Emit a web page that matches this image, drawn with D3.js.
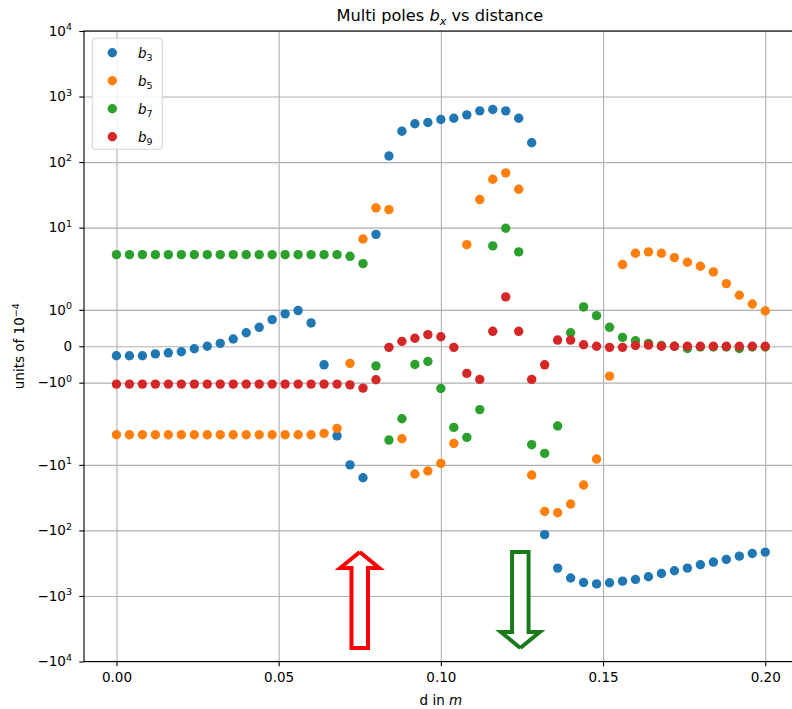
<!DOCTYPE html>
<html>
<head>
<meta charset="utf-8">
<script src="https://cdn.jsdelivr.net/npm/d3@7"></script>
<style>
  body { margin: 0; background: #fff; }
  text { font-family: "DejaVu Sans", sans-serif; fill: #000; }
</style>
</head>
<body>
<svg></svg>
<script>
const WIDTH = 792;
const HEIGHT = 709;

// plot box (right edge sits outside the picture, like the original)
const plotLeft = 84, plotRight = 797.7, plotTop = 31, plotBottom = 661.5;

const fontSize = 13.5;

// data: d in m, step 0.004
const dValues = d3.range(51).map((i) => +(i * 0.004).toFixed(3));

const b3 = [-0.26, -0.26, -0.26, -0.21, -0.18, -0.15, -0.07, 0.0, 0.08, 0.2,
  0.37, 0.52, 0.73, 0.89, 0.98, 0.64, -0.51, -3.6, -10, -15.7,
  7.9, 124, 296, 384, 401, 446, 467, 526, 605, 634,
  605, 467, 197, -116, -376, -533, -623, -655, -629, -594,
  -561, -510, -454, -413, -376, -334, -304, -277, -247, -225, -214];

const b5 = [-3.47, -3.47, -3.47, -3.47, -3.47, -3.47, -3.47, -3.47, -3.47, -3.47,
  -3.47, -3.47, -3.47, -3.47, -3.47, -3.47, -3.3, -2.77, -0.47, 6.7,
  20, 18.8, -4.0, -13.8, -12.4, -9.5, -4.7, 5.5, 26.8, 54.7,
  68.5, 38.5, -14.3, -51.4, -53.7, -39.6, -20.3, -8.15, -0.82, 2.73,
  4.06, 4.26, 4.06, 3.49, 2.96, 2.57, 2.11, 1.72, 1.4, 1.16, 0.97];

const b7 = [3.87, 3.87, 3.87, 3.87, 3.87, 3.87, 3.87, 3.87, 3.87, 3.87,
  3.87, 3.87, 3.87, 3.87, 3.87, 3.87, 3.87, 3.87, 3.65, 2.82,
  -0.54, -4.18, -1.99, -0.5, -0.42, -1.16, -2.68, -3.81, -1.74, 5.26,
  9.77, 4.26, -4.92, -6.68, -2.55, 0.37, 1.08, 0.84, 0.52, 0.245,
  0.15, 0.08, 0.02, 0.0, -0.06, -0.02, -0.02, -0.02, -0.06, -0.02, -0.02];

const b9 = [-1.04, -1.04, -1.04, -1.04, -1.04, -1.04, -1.04, -1.04, -1.04, -1.04,
  -1.04, -1.04, -1.04, -1.04, -1.04, -1.04, -1.04, -1.04, -1.06, -1.15,
  -0.92, -0.03, 0.135, 0.22, 0.32, 0.26, -0.03, -0.745, -0.91, 0.41,
  1.355, 0.41, -0.91, -0.51, 0.17, 0.17, 0.04, 0.0, -0.03, -0.03,
  0.02, 0.03, 0.0, 0.0, 0.0, 0.0, 0.0, 0.0, 0.0, 0.0, 0.0];

const seriesNames = ["3", "5", "7", "9"];
const seriesValues = [b3, b5, b7, b9];
const colors = ["#1f77b4", "#ff7f0e", "#2ca02c", "#d62728"];

const xTicks = [0, 0.05, 0.1, 0.15, 0.2];
const yTicks = [1e4, 1e3, 1e2, 10, 1, 0, -1, -10, -100, -1e3, -1e4];

// symmetric log like matplotlib (linthresh 2, linscale 1)
const LT = 2;
const LS = 1 / (1 - 1 / 10);
function symlog(v) {
  var a = Math.abs(v);
  if (a <= LT) return v * LS;
  return Math.sign(v) * LT * (LS + Math.log10(a / LT));
}

var svg = d3.select("svg").attr("width", WIDTH).attr("height", HEIGHT);

var x = d3.scaleLinear().domain([-0.01, 0.21]).range([plotLeft, plotRight]);
var yT = d3.scaleLinear().domain([symlog(-1e4), symlog(1e4)]).range([plotBottom, plotTop]);
var y = (v) => yT(symlog(v));

// grid
svg.append("g")
  .attr("transform", `translate(0,${plotBottom})`)
  .call(d3.axisBottom(x).tickValues(xTicks).tickSize(-(plotBottom - plotTop)).tickFormat(""))
  .call((g) => g.select(".domain").remove())
  .selectAll("line").attr("stroke", "#b0b0b0").attr("stroke-width", 1.1);

svg.append("g")
  .attr("transform", `translate(${plotLeft},0)`)
  .call(d3.axisLeft(yT).tickValues(yTicks.map(symlog)).tickSize(-(plotRight - plotLeft)).tickFormat(""))
  .call((g) => g.select(".domain").remove())
  .selectAll("line").attr("stroke", "#b0b0b0").attr("stroke-width", 1.1);

// points
seriesValues.forEach((vals, k) => {
  svg.append("g")
    .selectAll("circle")
    .data(vals)
    .enter()
    .append("circle")
    .attr("cx", (d, i) => x(dValues[i]))
    .attr("cy", (d) => y(d))
    .attr("r", 4.7)
    .attr("fill", colors[k]);
});

// frame
svg.append("rect")
  .attr("x", plotLeft).attr("y", plotTop)
  .attr("width", plotRight - plotLeft).attr("height", plotBottom - plotTop)
  .attr("fill", "none").attr("stroke", "#000").attr("stroke-width", 1.1);

// x axis
var gx = svg.append("g")
  .attr("transform", `translate(0,${plotBottom})`)
  .call(d3.axisBottom(x).tickValues(xTicks).tickFormat(d3.format(".2f")).tickSize(4.7).tickPadding(6.7));
gx.select(".domain").remove();
gx.selectAll("text").attr("font-size", fontSize).attr("font-family", "DejaVu Sans").attr("fill", "#000");
gx.selectAll("line").attr("stroke", "#000").attr("stroke-width", 1.1);

// y axis with powers of ten
var gy = svg.append("g")
  .attr("transform", `translate(${plotLeft},0)`)
  .call(d3.axisLeft(yT).tickValues(yTicks.map(symlog)).tickSize(4.7).tickPadding(7.3));
gy.select(".domain").remove();
gy.selectAll("line").attr("stroke", "#000").attr("stroke-width", 1.1);
gy.selectAll(".tick text").each(function (d, i) {
  var v = yTicks[i];
  var t = d3.select(this).text("")
    .attr("font-size", fontSize).attr("font-family", "DejaVu Sans").attr("fill", "#000");
  if (v === 0) {
    t.append("tspan").text("0");
    return;
  }
  var e = Math.round(Math.log10(Math.abs(v)));
  t.append("tspan").text((v < 0 ? "\u2212" : "") + "10");
  t.append("tspan").attr("font-size", 9.5).attr("dy", -5.5).text(e);
});

// title
var title = svg.append("text")
  .attr("x", (plotLeft + plotRight) / 2 - 1)
  .attr("y", 21)
  .attr("text-anchor", "middle")
  .attr("font-size", 16.2);
title.append("tspan").text("Multi poles ");
title.append("tspan").attr("font-style", "italic").text("b");
title.append("tspan").attr("font-style", "italic").attr("font-size", 11.3).attr("dy", 3.5).text("x");
title.append("tspan").attr("dy", -3.5).text(" vs distance");

// axis labels
var xl = svg.append("text")
  .attr("x", (plotLeft + plotRight) / 2)
  .attr("y", 705)
  .attr("text-anchor", "middle")
  .attr("font-size", fontSize);
xl.append("tspan").text("d in ");
xl.append("tspan").attr("font-style", "italic").text("m");

var yl = svg.append("text")
  .attr("transform", `translate(24,${(plotTop + plotBottom) / 2}) rotate(-90)`)
  .attr("text-anchor", "middle")
  .attr("font-size", fontSize);
yl.append("tspan").text("units of 10");
yl.append("tspan").attr("font-size", 9.5).attr("dy", -5.5).text("\u22124");

// legend
var legend = svg.append("g");
legend.append("rect")
  .attr("x", 92.3).attr("y", 38.3)
  .attr("width", 70).attr("height", 111)
  .attr("rx", 3)
  .attr("fill", "#fff").attr("fill-opacity", 0.8)
  .attr("stroke", "#d6d6d6").attr("stroke-width", 1.1);

seriesNames.forEach((n, k) => {
  var ly = 52.7 + k * 28;
  legend.append("circle").attr("cx", 112.3).attr("cy", ly).attr("r", 4.7).attr("fill", colors[k]);
  var lt = legend.append("text").attr("x", 138).attr("y", ly + 5).attr("font-size", fontSize);
  lt.append("tspan").attr("font-style", "italic").text("b");
  lt.append("tspan").attr("font-size", 9.5).attr("dy", 3).text(n);
});

// annotation arrows
function arrowPoints(cx, tipY, headY, endY) {
  return [[cx, tipY], [cx + 19.5, headY], [cx + 8.25, headY], [cx + 8.25, endY],
    [cx - 8.25, endY], [cx - 8.25, headY], [cx - 19.5, headY], [cx, tipY]];
}
var line = d3.line();

svg.append("path")
  .attr("d", line(arrowPoints(x(0.075), 552, 568, 648)))
  .attr("fill", "#fff").attr("stroke", "#ff0000").attr("stroke-width", 4)
  .attr("stroke-linejoin", "miter");

svg.append("path")
  .attr("d", line(arrowPoints(x(0.1245), 648, 632, 552)))
  .attr("fill", "#fff").attr("stroke", "#1a7a1a").attr("stroke-width", 4)
  .attr("stroke-linejoin", "miter");
</script>
</body>
</html>
